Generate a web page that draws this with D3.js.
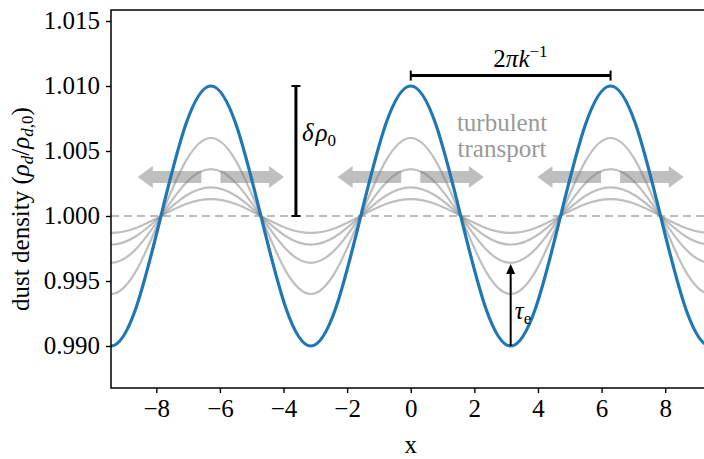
<!DOCTYPE html>
<html>
<head>
<meta charset="utf-8">
<script src="https://cdn.jsdelivr.net/npm/d3@7"></script>
<style>
  body { margin: 0; background: #fff; }
  text { font-family: "Liberation Serif", "DejaVu Serif", serif; }
</style>
</head>
<body>
<svg id="chart" width="704" height="459"></svg>
<script>
// knots of the density wave, step pi/4 (peaks at 0, +-2pi)
const xKnots = [-10.996, -10.21, -9.425, -8.639, -7.854, -7.069, -6.283, -5.498, -4.712, -3.927,
  -3.142, -2.356, -1.571, -0.785, 0, 0.785, 1.571, 2.356, 3.142, 3.927,
  4.712, 5.498, 6.283, 7.069, 7.854, 8.639, 9.425, 10.21, 10.996];
const waveShape = [0, -0.707, -1, -0.707, 0, 0.707, 1, 0.707, 0, -0.707,
  -1, -0.707, 0, 0.707, 1, 0.707, 0, -0.707, -1, -0.707,
  0, 0.707, 1, 0.707, 0, -0.707, -1, -0.707, 0];
const greyAmplitudes = [0.0013, 0.0022, 0.0036, 0.006];
const blueAmplitude = 0.01;
const xTicks = [-8, -6, -4, -2, 0, 2, 4, 6, 8];
const yTicks = [0.99, 0.995, 1.0, 1.005, 1.01, 1.015];
const arrowCenters = [-6.283, 0, 6.283];
const arrowLevel = 1.003;
const arrowInner = 0.3;
const arrowTip = 2.3;

const svg = d3.select('#chart');
const plot = {left: 111, right: 710.5, top: 10, bottom: 388};
const fs = '25px',
  fsSmall = '17px';

const xScale = d3.scaleLinear().domain([-9.4248, 9.4248]).range([plot.left, plot.right]);
const yScale = d3.scaleLinear().domain([0.986769, 1.015846]).range([plot.bottom, plot.top]);

svg.append('defs')
  .append('clipPath')
  .attr('id', 'clip')
  .append('rect')
  .attr('x', plot.left)
  .attr('y', plot.top)
  .attr('width', plot.right - plot.left)
  .attr('height', plot.bottom - plot.top);

const gPlot = svg.append('g').attr('clip-path', 'url(#clip)');

// baseline density
gPlot
  .append('line')
  .attr('x1', xScale(-9.4248))
  .attr('x2', xScale(9.4248))
  .attr('y1', yScale(1))
  .attr('y2', yScale(1))
  .style('stroke', '#bdbdbd')
  .style('stroke-width', 2)
  .style('stroke-dasharray', '8,5');

// turbulent transport arrows
const arrowShape = d3.line();
arrowCenters.forEach(c => {
  [-1, 1].forEach(s => {
    const xi = xScale(c + s * arrowInner),
      xt = xScale(c + s * arrowTip),
      yc = yScale(arrowLevel),
      hb = xt - s * 15;
    const pts = [
      [xi, yc - 6], [hb, yc - 6], [hb, yc - 11], [xt, yc],
      [hb, yc + 11], [hb, yc + 6], [xi, yc + 6]
    ];
    gPlot
      .append('path')
      .attr('d', arrowShape(pts) + 'Z')
      .style('fill', '#7f7f7f')
      .style('fill-opacity', 0.5);
  });
});

const waveLine = amp =>
  d3
    .line()
    .curve(d3.curveNatural)
    .x((d, i) => xScale(xKnots[i]))
    .y(d => yScale(1 + amp * d));

greyAmplitudes.forEach(amp => {
  gPlot
    .append('path')
    .attr('d', waveLine(amp)(waveShape))
    .style('fill', 'none')
    .style('stroke', '#808080')
    .style('stroke-opacity', 0.5)
    .style('stroke-width', 2.2);
});

gPlot
  .append('path')
  .attr('d', waveLine(blueAmplitude)(waveShape))
  .style('fill', 'none')
  .style('stroke', '#1f77b4')
  .style('stroke-width', 3.2);

// axes
const xAxis = svg
  .append('g')
  .attr('transform', 'translate(0,' + plot.bottom + ')')
  .call(d3.axisBottom(xScale).tickValues(xTicks).tickSize(5).tickPadding(6).tickFormat(d3.format('d')));
const yAxis = svg
  .append('g')
  .attr('transform', 'translate(' + plot.left + ',0)')
  .call(d3.axisLeft(yScale).tickValues(yTicks).tickSize(5).tickPadding(6).tickFormat(d3.format('.3f')));

[xAxis, yAxis].forEach(ax => {
  ax.select('.domain').remove();
  ax.selectAll('.tick line').style('stroke', '#000').style('stroke-width', 1.4);
  ax.selectAll('.tick text').style('font-size', fs).style('fill', '#000');
});

svg
  .append('rect')
  .attr('x', plot.left)
  .attr('y', plot.top)
  .attr('width', plot.right - plot.left)
  .attr('height', plot.bottom - plot.top)
  .style('fill', 'none')
  .style('stroke', '#000')
  .style('stroke-width', 1.5);

// axis titles
svg
  .append('text')
  .attr('x', xScale(0))
  .attr('y', 453)
  .attr('text-anchor', 'middle')
  .style('font-size', fs)
  .text('x');

const yTitle = svg
  .append('text')
  .attr('transform', 'translate(29,' + 209 + ') rotate(-90)')
  .attr('text-anchor', 'middle')
  .style('font-size', fs);
yTitle.append('tspan').text('dust density (');
yTitle.append('tspan').style('font-style', 'italic').text('ρ');
yTitle.append('tspan').style('font-style', 'italic').style('font-size', fsSmall).attr('dy', 4).text('d');
yTitle.append('tspan').attr('dy', -4).text('/');
yTitle.append('tspan').style('font-style', 'italic').text('ρ');
yTitle.append('tspan').style('font-style', 'italic').style('font-size', fsSmall).attr('dy', 4).text('d');
yTitle.append('tspan').style('font-size', fsSmall).text(',0');
yTitle.append('tspan').attr('dy', -4).text(')');

// amplitude bar
const barX = xScale(-3.61);
svg
  .append('line')
  .attr('x1', barX)
  .attr('x2', barX)
  .attr('y1', yScale(1))
  .attr('y2', yScale(1.01))
  .style('stroke', '#000')
  .style('stroke-width', 3);
[1, 1.01].forEach(v => {
  svg
    .append('line')
    .attr('x1', barX - 4.5)
    .attr('x2', barX + 4.5)
    .attr('y1', yScale(v))
    .attr('y2', yScale(v))
    .style('stroke', '#000')
    .style('stroke-width', 2);
});
const ampLabel = svg
  .append('text')
  .attr('x', xScale(-3.42))
  .attr('y', yScale(1.0064) + 8)
  .style('font-size', fs);
ampLabel.append('tspan').style('font-style', 'italic').text('δ');
ampLabel.append('tspan').style('font-style', 'italic').attr('dx', 2).text('ρ');
ampLabel.append('tspan').style('font-size', fsSmall).attr('dy', 5).text('0');

// wavelength bracket
const brY = yScale(1.0108);
svg
  .append('line')
  .attr('x1', xScale(0))
  .attr('x2', xScale(6.283))
  .attr('y1', brY)
  .attr('y2', brY)
  .style('stroke', '#000')
  .style('stroke-width', 3);
[0, 6.283].forEach(v => {
  svg
    .append('line')
    .attr('x1', xScale(v))
    .attr('x2', xScale(v))
    .attr('y1', brY - 5)
    .attr('y2', brY + 5)
    .style('stroke', '#000')
    .style('stroke-width', 2);
});
const waveLabel = svg
  .append('text')
  .attr('x', xScale(3.45))
  .attr('y', 67)
  .attr('text-anchor', 'middle')
  .style('font-size', fs);
waveLabel.append('tspan').text('2');
waveLabel.append('tspan').style('font-style', 'italic').text('πk');
waveLabel.append('tspan').style('font-size', fsSmall).attr('dy', -10).text('−1');

// turbulent transport label
const turbLabel = svg
  .append('text')
  .attr('text-anchor', 'middle')
  .style('font-size', fs)
  .style('fill', '#999');
turbLabel.append('tspan').attr('x', xScale(2.87)).attr('y', 131).text('turbulent');
turbLabel.append('tspan').attr('x', xScale(2.87)).attr('y', 157).text('transport');

// damping time arrow
const tX = xScale(3.1416),
  tipY = yScale(0.9963);
svg
  .append('line')
  .attr('x1', tX)
  .attr('x2', tX)
  .attr('y1', yScale(0.99))
  .attr('y2', tipY + 8)
  .style('stroke', '#000')
  .style('stroke-width', 2);
svg
  .append('path')
  .attr('d', arrowShape([[tX, tipY], [tX - 4.5, tipY + 10], [tX + 4.5, tipY + 10]]) + 'Z')
  .style('fill', '#000');
const tauLabel = svg
  .append('text')
  .attr('x', xScale(3.27))
  .attr('y', yScale(0.99254) + 6)
  .style('font-size', fs);
tauLabel.append('tspan').style('font-style', 'italic').text('τ');
tauLabel.append('tspan').style('font-size', fsSmall).attr('dy', 5).text('e');
</script>
</body>
</html>
